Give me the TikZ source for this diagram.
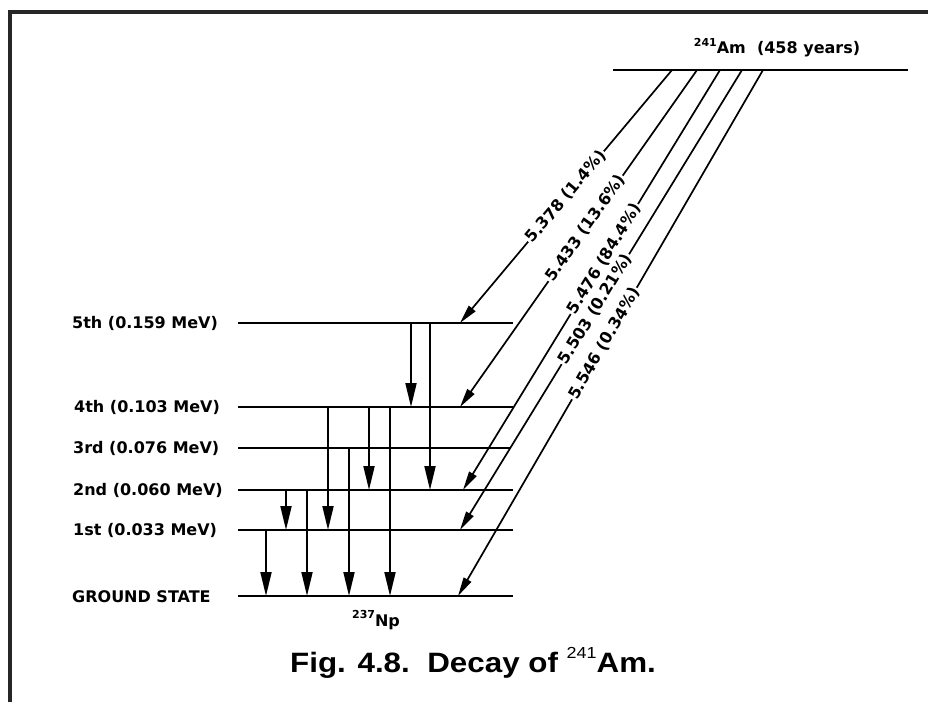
\documentclass[tikz,border=0pt]{standalone}
\usepackage{fontspec}
\setmainfont{DejaVu Sans}
\newfontfamily\capfont{Liberation Sans}
\usetikzlibrary{arrows.meta}
\newcommand{\supr}[1]{\raisebox{0.45em}{\fontsize{11}{12}\selectfont #1}}
\begin{document}
\begin{tikzpicture}[x=1pt,y=-1pt,
  lvl/.style={line width=2.6pt},
  gam/.style={line width=1.9pt,-{Triangle[length=24pt,width=11pt]}},
  alp/.style={line width=1.7pt,-{Triangle[length=19pt,width=8.5pt]}},
  lab/.style={font=\bfseries\fontsize{16}{19}\selectfont, inner sep=0pt},
  albl/.style={font=\bfseries\fontsize{16}{19}\selectfont, fill=white, inner sep=1.2pt, sloped},
  frm/.style={line width=4.5pt, color=black!85, line join=miter}]
\useasboundingbox (0,0) rectangle (928,702);
\fill[white] (0,0) rectangle (928,702);
% frame
\coordinate (fa) at (10,702); \coordinate (fb) at (10,12); \coordinate (fc) at (928,12);
\draw[frm] (fa) -- (fb) -- (fc);
% Am level
\coordinate (AmL) at (613,70); \coordinate (AmR) at (908,70);
\draw[lvl] (AmL) -- (AmR);
\node[lab] (am) at (777,48) {\supr{241}Am\ \ (458 years)};
% Np levels
\coordinate (L5) at (238,323); \coordinate (L5r) at (513,323);
\coordinate (L4) at (238,407); \coordinate (L4r) at (513,407);
\coordinate (L3) at (238,448); \coordinate (L3r) at (511,448);
\coordinate (L2) at (238,490); \coordinate (L2r) at (513,490);
\coordinate (L1) at (238,530); \coordinate (L1r) at (513,530);
\coordinate (L0) at (238,596); \coordinate (L0r) at (513,596);
\foreach \l in {L5,L4,L3,L2,L1,L0} \draw[lvl] (\l) -- (\l r);
\node[lab, anchor=west] (t5) at (72,323) {5th (0.159 MeV)};
\node[lab, anchor=west] (t4) at (74,407) {4th (0.103 MeV)};
\node[lab, anchor=west] (t3) at (73,448) {3rd (0.076 MeV)};
\node[lab, anchor=west] (t2) at (73,490) {2nd (0.060 MeV)};
\node[lab, anchor=west] (t1) at (73,530) {1st (0.033 MeV)};
\node[lab, anchor=west] (t0) at (72,597) {GROUND STATE};
\node[lab] (np) at (376,620) {\supr{237}Np};
% gamma columns
\coordinate (c1) at (266,0); \coordinate (c2) at (286,0); \coordinate (c3) at (307,0);
\coordinate (c4) at (328,0); \coordinate (c5) at (349,0); \coordinate (c6) at (369,0);
\coordinate (c7) at (390,0); \coordinate (c8) at (411,0); \coordinate (c9) at (430,0);
\draw[gam] (c1 |- L1) -- (c1 |- L0);
\draw[gam] (c2 |- L2) -- (c2 |- L1);
\draw[gam] (c3 |- L2) -- (c3 |- L0);
\draw[gam] (c4 |- L4) -- (c4 |- L1);
\draw[gam] (c5 |- L3) -- (c5 |- L0);
\draw[gam] (c6 |- L4) -- (c6 |- L2);
\draw[gam] (c7 |- L4) -- (c7 |- L0);
\draw[gam] (c8 |- L5) -- (c8 |- L4);
\draw[gam] (c9 |- L5) -- (c9 |- L2);
% alpha transitions
\coordinate (a1) at (672,70); \coordinate (a2) at (697,70); \coordinate (a3) at (720,70);
\coordinate (a4) at (742,70); \coordinate (a5) at (763,70);
\coordinate (e1) at (460,323); \coordinate (e2) at (460,407); \coordinate (e3) at (463,490);
\coordinate (e4) at (460,530); \coordinate (e5) at (458,596);
\draw[alp] (a1) -- node[albl, pos=0.5] (l1) {5.378 (1.4\%)} (e1);
\draw[alp] (a2) -- node[albl, pos=0.47] (l2) {5.433 (13.6\%)} (e2);
\draw[alp] (a3) -- node[albl, pos=0.45] (l3) {5.476 (84.4\%)} (e3);
\draw[alp] (a4) -- node[albl, pos=0.52] (l4) {5.503 (0.21\%)} (e4);
\draw[alp] (a5) -- node[albl, pos=0.52] (l5) {5.546 (0.34\%)} (e5);
% caption
\node[font=\capfont\bfseries\fontsize{28}{32}\selectfont, anchor=base west, inner sep=0pt] (cap) at (290,672)
  {\scalebox{1.12}[1]{Fig. 4.8.\ \ Decay of {\mdseries\raisebox{0.5em}{\fontsize{16}{18}\selectfont 241}}Am.}};
\end{tikzpicture}
\end{document}
